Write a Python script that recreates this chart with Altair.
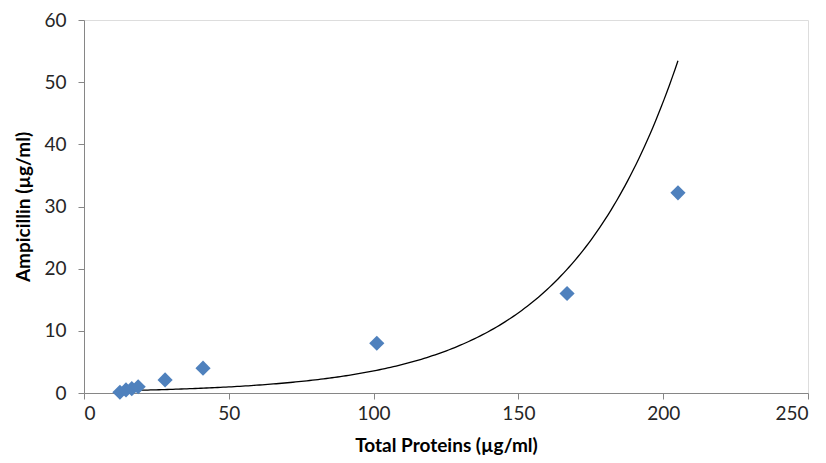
import altair as alt
import pandas as pd

# Data
total_proteins = [12.4, 14.5, 16.5, 18.7, 28.0, 41.1, 101.1, 166.8, 205.1]
ampicillin = [0.125, 0.5, 0.7, 1.0, 2.1, 4.0, 8.0, 16.0, 32.2]

# Exponential trendline y = a * exp(b * x), parameters
TREND_A = 0.269
TREND_B = 0.0258

df = pd.DataFrame({"x": total_proteins, "y": ampicillin})

FONT = "Lato"
AXIS_COLOR = "#868686"

x_scale = alt.Scale(domain=[0, 250], nice=False, zero=True)
y_scale = alt.Scale(domain=[0, 60], nice=False)

x_axis = alt.Axis(
    title="Total Proteins (µg/ml)", values=[0, 50, 100, 150, 200, 250],
    grid=False, domainColor=AXIS_COLOR, tickColor=AXIS_COLOR, tickSize=6,
    labelFont=FONT, labelFontSize=19, labelColor="#262626", labelPadding=5,
    titleFont=FONT, titleFontSize=19, titleFontWeight="bold", titleColor="#000000",
    titlePadding=13,
)
y_axis = alt.Axis(
    title="Ampicillin (µg/ml)", values=[0, 10, 20, 30, 40, 50, 60],
    grid=False, domainColor=AXIS_COLOR, tickColor=AXIS_COLOR, tickSize=6,
    labelFont=FONT, labelFontSize=19, labelColor="#262626", labelPadding=12,
    titleFont=FONT, titleFontSize=19, titleFontWeight="bold", titleColor="#000000",
    titlePadding=10,
)

xmin, xmax = min(total_proteins), max(total_proteins)

trend = (
    alt.Chart(alt.sequence(start=xmin, stop=xmax + 0.01, step=(xmax - xmin) / 200, as_="x"))
    .transform_calculate(y=f"{TREND_A} * exp({TREND_B} * datum.x)")
    .mark_line(color="#000000", strokeWidth=1.3, clip=True)
    .encode(
        x=alt.X("x:Q", scale=x_scale, axis=x_axis),
        y=alt.Y("y:Q", scale=y_scale, axis=y_axis),
    )
)

points = (
    alt.Chart(df)
    .mark_point(shape="diamond", filled=True, color="#4F81BD", opacity=1, size=230)
    .encode(
        x=alt.X("x:Q", scale=x_scale, axis=x_axis),
        y=alt.Y("y:Q", scale=y_scale, axis=y_axis),
    )
)

chart = (
    alt.layer(trend, points)
    .properties(
        width=724, height=373,
        autosize=alt.AutoSizeParams(type="none"),
        padding={"left": 76, "top": 12, "right": 10, "bottom": 65},
    )
    .configure_view(stroke=None)
    .configure(background="#ffffff")
)

chart.save("out.html", embed_options={"renderer": "svg", "actions": False})
